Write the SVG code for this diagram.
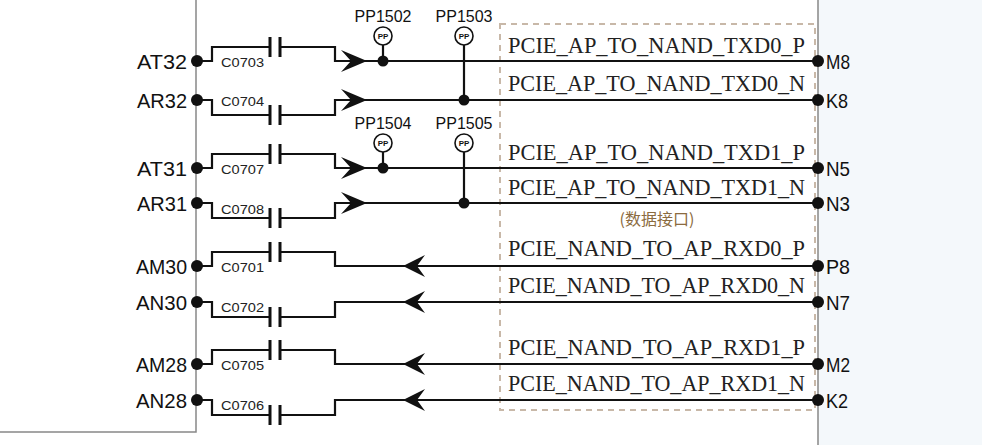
<svg xmlns="http://www.w3.org/2000/svg" width="982" height="445" viewBox="0 0 982 445">
<style>
.w{fill:none;stroke:#111;stroke-width:2.2}
.cp{stroke:#111;stroke-width:3}
.pin{font-family:"Liberation Sans",sans-serif;font-size:21px;fill:#111}
.cl{font-family:"Liberation Sans",sans-serif;font-size:13px;fill:#222}
.pp{font-family:"Liberation Sans",sans-serif;font-size:16px;fill:#111}
.net{font-family:"Liberation Serif",serif;font-size:24px;fill:#222}
.ppc{fill:#fff;stroke:#111;stroke-width:1.6}
.ppt{font-family:"Liberation Sans",sans-serif;font-size:8px;fill:#111;font-weight:bold}
</style>
<defs>
<path id="ar" d="M0,0 L-26,-11 L-16,0 L-26,11 Z" fill="#111"/>
<path id="al" d="M0,0 L22,-11 L14,0 L22,11 Z" fill="#111"/>
</defs>
<rect width="982" height="445" fill="#fff"/>
<g id="chip-right"><rect x="818" y="-2" width="170" height="450" fill="#f4f8fb" stroke="#888" stroke-width="1.5"/></g>
<g id="chip-left"><path d="M196,0 V432 H0" fill="none" stroke="#888" stroke-width="1.5"/></g>
<g id="box"><rect x="500" y="24" width="315" height="386" fill="none" stroke="#c8b8a8" stroke-width="2" stroke-dasharray="6,5"/>
<text x="657" y="225" text-anchor="middle" font-family="'Noto Sans CJK SC',serif" font-size="16" fill="#8b6b40">(数据接口)</text></g>
<g id="connectors">
<path class="w" d="M197,61 H212 V47 H270 M280,47 H335 V61 H818"/>
<path class="w" d="M197,100 H212 V115 H270 M280,115 H335 V100 H818"/>
<path class="w" d="M197,168 H212 V154 H270 M280,154 H335 V168 H818"/>
<path class="w" d="M197,203 H212 V218 H270 M280,218 H335 V203 H818"/>
<path class="w" d="M197,266 H212 V252 H270 M280,252 H335 V266 H818"/>
<path class="w" d="M197,302 H212 V317 H270 M280,317 H335 V302 H818"/>
<path class="w" d="M197,364 H212 V350 H270 M280,350 H335 V364 H818"/>
<path class="w" d="M197,400 H212 V415 H270 M280,415 H335 V400 H818"/>
<path class="cp" d="M270,37V57M280,37V57 M270,105V125M280,105V125 M270,144V164M280,144V164 M270,208V228M280,208V228 M270,242V262M280,242V262 M270,307V327M280,307V327 M270,340V360M280,340V360 M270,405V425M280,405V425"/>
<use href="#ar" x="367" y="61"/><use href="#ar" x="367" y="100"/><use href="#ar" x="367" y="168"/><use href="#ar" x="367" y="203"/>
<use href="#al" x="403" y="266"/><use href="#al" x="403" y="302"/><use href="#al" x="403" y="364"/><use href="#al" x="403" y="400"/>
<path class="w" d="M383,45V61 M464,45V100 M383,152V168 M464,152V203"/>
<g fill="#111"><circle cx="383" cy="61" r="5.5"/><circle cx="464" cy="100" r="5.5"/><circle cx="383" cy="168" r="5.5"/><circle cx="464" cy="203" r="5.5"/></g>
</g>
<g id="pp"><g class="ppc"><circle cx="383" cy="36" r="9"/><circle cx="464" cy="36" r="9"/><circle cx="383" cy="143" r="9"/><circle cx="464" cy="143" r="9"/></g>
<g class="ppt" text-anchor="middle"><text x="383" y="39">PP</text><text x="464" y="39">PP</text><text x="383" y="146">PP</text><text x="464" y="146">PP</text></g>
<g class="pp" text-anchor="middle"><text x="383" y="22">PP1502</text><text x="464" y="22">PP1503</text><text x="383" y="129">PP1504</text><text x="464" y="129">PP1505</text></g></g>
<g id="pins-left" fill="#111"><circle cx="197" cy="61" r="6"/><circle cx="197" cy="100" r="6"/><circle cx="197" cy="168" r="6"/><circle cx="197" cy="203" r="6"/><circle cx="197" cy="266" r="6"/><circle cx="197" cy="302" r="6"/><circle cx="197" cy="364" r="6"/><circle cx="197" cy="400" r="6"/>
<g class="pin" text-anchor="end" lengthAdjust="spacingAndGlyphs"><text x="187" y="69" textLength="50" lengthAdjust="spacingAndGlyphs">AT32</text><text x="187" y="108" textLength="50" lengthAdjust="spacingAndGlyphs">AR32</text><text x="187" y="176" textLength="50" lengthAdjust="spacingAndGlyphs">AT31</text><text x="187" y="211" textLength="50" lengthAdjust="spacingAndGlyphs">AR31</text><text x="187" y="274" textLength="51" lengthAdjust="spacingAndGlyphs">AM30</text><text x="187" y="310" textLength="51" lengthAdjust="spacingAndGlyphs">AN30</text><text x="187" y="372" textLength="51" lengthAdjust="spacingAndGlyphs">AM28</text><text x="187" y="408" textLength="51" lengthAdjust="spacingAndGlyphs">AN28</text></g></g>
<g class="cl"><text x="221" y="67" textLength="43" lengthAdjust="spacingAndGlyphs">C0703</text><text x="221" y="106" textLength="43" lengthAdjust="spacingAndGlyphs">C0704</text><text x="221" y="174" textLength="43" lengthAdjust="spacingAndGlyphs">C0707</text><text x="221" y="214" textLength="43" lengthAdjust="spacingAndGlyphs">C0708</text><text x="221" y="272" textLength="43" lengthAdjust="spacingAndGlyphs">C0701</text><text x="221" y="312" textLength="43" lengthAdjust="spacingAndGlyphs">C0702</text><text x="221" y="370" textLength="43" lengthAdjust="spacingAndGlyphs">C0705</text><text x="221" y="410" textLength="43" lengthAdjust="spacingAndGlyphs">C0706</text></g>
<g id="pins-right" fill="#111"><circle cx="818" cy="61" r="6"/><circle cx="818" cy="100" r="6"/><circle cx="818" cy="168" r="6"/><circle cx="818" cy="203" r="6"/><circle cx="818" cy="266" r="6"/><circle cx="818" cy="302" r="6"/><circle cx="818" cy="364" r="6"/><circle cx="818" cy="400" r="6"/>
<g class="pin"><text x="826" y="69" textLength="24" lengthAdjust="spacingAndGlyphs">M8</text><text x="826" y="108" textLength="22" lengthAdjust="spacingAndGlyphs">K8</text><text x="826" y="176" textLength="24" lengthAdjust="spacingAndGlyphs">N5</text><text x="826" y="211" textLength="24" lengthAdjust="spacingAndGlyphs">N3</text><text x="826" y="274" textLength="24" lengthAdjust="spacingAndGlyphs">P8</text><text x="826" y="310" textLength="24" lengthAdjust="spacingAndGlyphs">N7</text><text x="826" y="372" textLength="24" lengthAdjust="spacingAndGlyphs">M2</text><text x="826" y="408" textLength="22" lengthAdjust="spacingAndGlyphs">K2</text></g></g>
<g id="nets" class="net"><text x="508" y="53" textLength="297" lengthAdjust="spacingAndGlyphs">PCIE_AP_TO_NAND_TXD0_P</text><text x="508" y="91" textLength="297" lengthAdjust="spacingAndGlyphs">PCIE_AP_TO_NAND_TXD0_N</text><text x="508" y="160" textLength="297" lengthAdjust="spacingAndGlyphs">PCIE_AP_TO_NAND_TXD1_P</text><text x="508" y="195" textLength="297" lengthAdjust="spacingAndGlyphs">PCIE_AP_TO_NAND_TXD1_N</text><text x="508" y="256" textLength="297" lengthAdjust="spacingAndGlyphs">PCIE_NAND_TO_AP_RXD0_P</text><text x="508" y="293" textLength="297" lengthAdjust="spacingAndGlyphs">PCIE_NAND_TO_AP_RXD0_N</text><text x="508" y="355" textLength="297" lengthAdjust="spacingAndGlyphs">PCIE_NAND_TO_AP_RXD1_P</text><text x="508" y="391" textLength="297" lengthAdjust="spacingAndGlyphs">PCIE_NAND_TO_AP_RXD1_N</text></g>
</svg>
